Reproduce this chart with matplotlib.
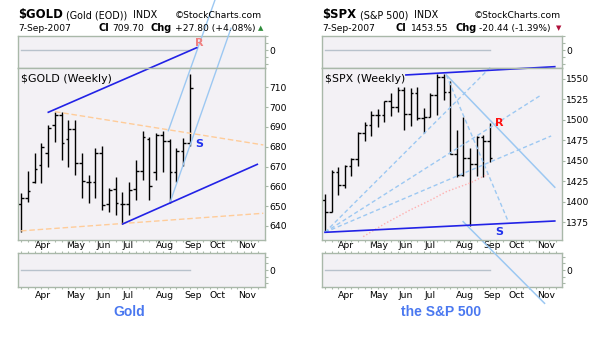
import matplotlib
matplotlib.use("Agg")
import matplotlib.pyplot as plt
import numpy as np

W, H = 605, 337
plt.rcParams['font.family'] = ['DejaVu Sans']

# ---------------- data ----------------
week_index = list(range(26))          # weekly bars 16-Mar-2007 .. 07-Sep-2007
month_labels = ['Apr', 'May', 'Jun', 'Jul', 'Aug', 'Sep', 'Oct', 'Nov']
month_label_pos = [3.2, 8.1, 12.2, 15.9, 21.3, 25.4, 29.1, 33.5]

gold_open = [651.0, 654.0, 662.4, 671.0, 676.7, 691.0, 696.0, 684.0, 689.0, 672.0, 662.0, 662.0, 677.0,
             651.0, 658.5, 651.0, 651.0, 658.5, 667.9, 684.0, 667.0, 686.0, 683.0, 667.0, 678.0, 682.0]
gold_high = [656.5, 667.8, 677.0, 681.7, 691.0, 697.7, 697.7, 693.5, 693.5, 676.7, 665.7, 679.5, 680.4,
             659.0, 664.6, 657.0, 662.4, 673.3, 688.1, 685.1, 687.1, 688.1, 684.0, 679.2, 684.6, 716.7]
gold_low = [637.1, 652.3, 661.5, 661.5, 670.0, 682.6, 673.3, 670.0, 665.7, 654.0, 651.4, 654.0, 648.1,
            647.2, 645.6, 641.0, 645.6, 653.1, 663.2, 653.1, 663.2, 667.0, 651.4, 662.4, 670.3, 680.4]
gold_close = [654.0, 657.7, 669.0, 680.0, 689.3, 696.0, 682.0, 689.0, 672.0, 662.5, 662.0, 677.0, 650.6,
              658.0, 651.4, 651.0, 658.2, 667.9, 684.8, 660.0, 686.0, 683.0, 667.4, 678.0, 681.9, 709.7]
gold_volume = [0] * 26
gold_yticks = [640, 650, 660, 670, 680, 690, 700, 710]

spx_open = [1402.8, 1387.0, 1436.1, 1420.8, 1443.8, 1452.8, 1484.4, 1494.1, 1505.6, 1505.9, 1522.8, 1515.7, 1536.3,
            1507.7, 1532.9, 1502.6, 1503.4, 1530.4, 1552.5, 1534.1, 1459.0, 1433.1, 1453.6, 1445.9, 1479.4, 1474.0]
spx_high = [1409.5, 1438.9, 1443.0, 1444.9, 1453.1, 1484.7, 1498.0, 1510.3, 1513.8, 1522.8, 1532.4, 1540.6, 1540.2,
            1538.7, 1540.5, 1514.3, 1532.4, 1555.9, 1555.9, 1547.2, 1488.3, 1504.0, 1466.3, 1480.7, 1481.5, 1496.4]
spx_low = [1364.0, 1388.0, 1408.0, 1416.4, 1431.0, 1444.0, 1473.7, 1480.0, 1491.4, 1498.0, 1505.0, 1510.0, 1487.3,
           1492.0, 1500.0, 1484.2, 1503.0, 1506.0, 1524.0, 1458.9, 1430.4, 1432.0, 1370.6, 1432.0, 1430.5, 1449.0]
spx_close = [1387.0, 1436.1, 1420.9, 1443.8, 1452.9, 1484.4, 1494.1, 1505.6, 1505.9, 1522.8, 1515.7, 1536.3, 1507.7,
             1532.9, 1502.6, 1503.4, 1530.4, 1552.5, 1534.1, 1459.0, 1433.1, 1453.6, 1445.9, 1479.4, 1474.0, 1453.6]
spx_volume = [0] * 26
spx_yticks = [1375, 1400, 1425, 1450, 1475, 1500, 1525, 1550]

# trendline annotations (week index, price)
gold_channel_top = ([4.04, 26.0], [697.4, 730.0])
gold_channel_bottom = ([15.04, 34.96], [641.0, 671.1])
gold_tri_top = ([5.03, 35.85], [697.7, 680.9])
gold_tri_bottom = ([0.0, 35.85], [637.5, 646.4])
gold_steep_a = ([21.8, 28.7], [688.1, 754.1])
gold_steep_b = ([22.04, 31.07], [651.8, 739.8])
gold_R = (26.3, 732.4)
gold_S = (26.3, 681.2)

spx_channel_top = ([12.27, 34.85], [1554.9, 1565.0])
spx_channel_bottom = ([0.0, 34.85], [1362.8, 1376.6])
spx_fan_a = ([0.0, 25.3], [1362.8, 1565.9])
spx_fan_b = ([0.0, 32.8], [1362.8, 1530.5])
spx_fan_c = ([0.0, 34.3], [1362.8, 1480.4])
spx_ma_x = [5.8, 9.0, 12.9, 16.0, 18.4, 22.0, 25.0]
spx_ma_y = [1357.5, 1373.0, 1390.0, 1402.0, 1412.4, 1423.0, 1434.9]
spx_down_r = ([18.4, 34.85], [1554.9, 1417.8])
spx_down_steep = ([18.4, 27.8], [1554.9, 1375.8])
spx_down_lower = ([20.95, 33.3], [1375.8, 1276.1])
spx_R = (26.4, 1495.9)
spx_S = (26.4, 1363.6)

# ---------------- drawing ----------------
BG = '#F3F1F5'
EDGE = '#A9B8A9'
DARKBLUE = '#2222E6'
LIGHTBLUE = '#9CC8F2'
ORANGE = '#FFCC99'
PINK = '#FFB0B0'
ZERO = '#B8C2CC'

fig = plt.figure(figsize=(W / 100, H / 100), dpi=100)
fig.patch.set_facecolor('white')


def ftext(xpx, ypx, s, **kw):
    fig.text(xpx / W, 1 - ypx / H, s, va='baseline', ha='left', **kw)


def style(ax, xlim):
    ax.set_facecolor(BG)
    for sp in ax.spines.values():
        sp.set_color(EDGE)
        sp.set_linewidth(1.0)
    ax.set_xlim(xlim)
    ax.yaxis.tick_right()
    ax.tick_params(axis='y', which='both', colors=EDGE, labelcolor='black',
                   labelsize=6.6, length=2, width=0.8, pad=1.2)
    ax.tick_params(axis='x', which='both', colors=EDGE, labelcolor='black',
                   labelsize=6.7, width=0.8)


def make_panel(lpx, rpx, xlim, ylim, yticks, o, h, l, c, vol):
    left = lpx / W
    w = (rpx - lpx) / W
    top = fig.add_axes([left, 1 - 67.5 / H, w, 31.5 / H])
    bot = fig.add_axes([left, 1 - 287 / H, w, 34 / H])
    main = fig.add_axes([left, 1 - 240 / H, w, 172.5 / H])
    main.set_zorder(3)
    for ax in (top, main, bot):
        style(ax, xlim)
    # indicator panels
    top.plot(week_index, vol, color=ZERO, lw=1.0)
    top.set_ylim(-1.25, 1.0)
    top.set_yticks([-1, -0.5, 0, 0.5, 1])
    top.set_yticklabels(['', '', '0', '', ''])
    top.set_xticks([])
    bot.plot(week_index, vol, color=ZERO, lw=1.0)
    bot.set_ylim(-1, 1)
    bot.set_yticks([-0.75, -0.4, 0, 0.4, 0.75])
    bot.set_yticklabels(['', '', '0', '', ''])
    for ax, pad in ((main, 1.0), (bot, 3.2)):
        ax.set_xticks(month_label_pos)
        ax.set_xticklabels(month_labels)
        ax.set_xticks(np.arange(0, 36), minor=True)
        ax.tick_params(axis='x', which='major', length=0, pad=pad)
        ax.tick_params(axis='x', which='minor', length=1.6)
    bot.tick_params(axis='x', which='minor', top=True)
    # OHLC bars
    xs = np.array(week_index, dtype=float)
    main.vlines(xs, l, h, color='black', lw=1.0)
    main.hlines(o, xs - 0.4, xs, color='black', lw=1.0)
    main.hlines(c, xs, xs + 0.4, color='black', lw=1.0)
    main.set_ylim(ylim)
    main.set_yticks(yticks)
    return main


# ---- GOLD ----
g = make_panel(18.3, 265.0, (-0.4, 36.1), (632.9, 720.0), gold_yticks,
               gold_open, gold_high, gold_low, gold_close, gold_volume)
g.plot(*gold_tri_top, color=ORANGE, lw=1.0, ls=(0, (4, 2)))
g.plot(*gold_tri_bottom, color=ORANGE, lw=1.0, ls=(0, (4, 2)))
g.plot(*gold_steep_a, color=LIGHTBLUE, lw=1.0, clip_on=False)
g.plot(*gold_steep_b, color=LIGHTBLUE, lw=1.0, clip_on=False)
g.plot(*gold_channel_top, color=DARKBLUE, lw=1.2, clip_on=False)
g.plot(*gold_channel_bottom, color=DARKBLUE, lw=1.2)
g.text(*gold_R, 'R', color='#F08080', fontsize=8, fontweight='bold', ha='center', va='center', clip_on=False)
g.text(*gold_S, 'S', color='#2233EE', fontsize=8, fontweight='bold', ha='center', va='center')
g.text(0.01, 0.965, '$GOLD (Weekly)', transform=g.transAxes, fontsize=7.9, va='top', ha='left')

# ---- SPX ----
s = make_panel(322.3, 561.7, (-0.41, 35.9), (1353.4, 1564.0), spx_yticks,
               spx_open, spx_high, spx_low, spx_close, spx_volume)
for fan in (spx_fan_a, spx_fan_b, spx_fan_c):
    s.plot(*fan, color=LIGHTBLUE, lw=1.0, ls=(0, (3, 2)), clip_on=False)
s.plot(spx_ma_x, spx_ma_y, color=PINK, lw=1.0, ls=(0, (1, 1.5)))
s.plot(*spx_down_steep, color=LIGHTBLUE, lw=1.0, ls=(0, (3, 2)))
s.plot(*spx_down_r, color=LIGHTBLUE, lw=1.1)
s.plot(*spx_down_lower, color=LIGHTBLUE, lw=1.1, clip_on=False)
s.plot(*spx_channel_top, color=DARKBLUE, lw=1.2, clip_on=False)
s.plot(*spx_channel_bottom, color=DARKBLUE, lw=1.2)
s.text(*spx_R, 'R', color='#FF1010', fontsize=8, fontweight='bold', ha='center', va='center')
s.text(*spx_S, 'S', color='#2233EE', fontsize=8, fontweight='bold', ha='center', va='center')
s.text(0.01, 0.965, '$SPX (Weekly)', transform=s.transAxes, fontsize=7.9, va='top', ha='left')

# ---- headers ----
HS = 6.9
HS2 = 6.6
ftext(18.0, 18.3, '$GOLD', fontsize=8.4, fontweight='bold')
ftext(66.0, 18.3, '(Gold (EOD))', fontsize=HS)
ftext(132.7, 18.3, 'INDX', fontsize=HS)
ftext(175.0, 18.3, '\u00a9StockCharts.com', fontsize=6.6)
ftext(18.0, 30.7, '7-Sep-2007', fontsize=HS2)
ftext(98.3, 30.7, 'Cl', fontsize=7, fontweight='bold')
ftext(112.7, 30.7, '709.70', fontsize=HS2)
ftext(150.7, 30.7, 'Chg', fontsize=7, fontweight='bold')
ftext(175.0, 30.7, '+27.80 (+4.08%)', fontsize=HS2)
ftext(257.5, 30.0, '\u25b2', fontsize=5, color='#2E8B3A')

ftext(322.3, 18.3, '$SPX', fontsize=8.4, fontweight='bold')
ftext(360.0, 18.3, '(S&P 500)', fontsize=HS)
ftext(414.0, 18.3, 'INDX', fontsize=HS)
ftext(473.3, 18.3, '\u00a9StockCharts.com', fontsize=6.6)
ftext(322.3, 30.7, '7-Sep-2007', fontsize=HS2)
ftext(396.0, 30.7, 'Cl', fontsize=7, fontweight='bold')
ftext(410.7, 30.7, '1453.55', fontsize=HS2)
ftext(455.0, 30.7, 'Chg', fontsize=7, fontweight='bold')
ftext(479.3, 30.7, '-20.44 (-1.39%)', fontsize=HS2)
ftext(555.5, 30.0, '\u25bc', fontsize=5, color='#B0103A')

# ---- captions ----
fig.text(129 / W, 1 - 312 / H, 'Gold', fontsize=10, fontweight='bold', color='#4A78F0',
         ha='center', va='center', family=['Liberation Sans', 'DejaVu Sans'])
fig.text(440.7 / W, 1 - 312 / H, 'the S&P 500', fontsize=10, fontweight='bold', color='#4A78F0',
         ha='center', va='center', family=['Liberation Sans', 'DejaVu Sans'])

fig.savefig('out.png', dpi=100, facecolor='white')
